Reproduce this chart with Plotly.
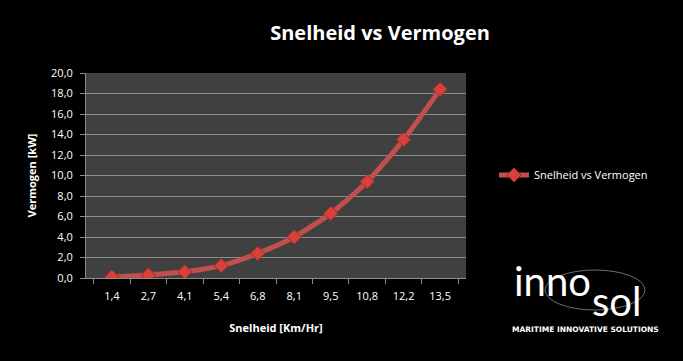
import plotly.graph_objects as go

categories = ["1,4", "2,7", "4,1", "5,4", "6,8", "8,1", "9,5", "10,8", "12,2", "13,5"]
vermogen = [0.1, 0.3, 0.6, 1.2, 2.4, 4.0, 6.3, 9.4, 13.5, 18.4]
series_name = "Snelheid vs Vermogen"

W, H = 683, 361
L, R, T, B = 86, 217, 73, 83
PW, PH = W - L - R, H - T - B


def px(x):
    return (x - L) / PW


def py(y):
    return (H - B - y) / PH


fig = go.Figure()
fig.add_trace(go.Scatter(
    x=categories, y=vermogen, mode="lines+markers", name=series_name,
    line=dict(color="#c0504d", width=5, shape="spline", smoothing=0.6),
    marker=dict(symbol="diamond", size=11, color="#d9403a",
                line=dict(color="#9a2e2b", width=1)),
))

font_main = "Open Sans, DejaVu Sans, sans-serif"
fig.update_layout(
    width=W, height=H,
    margin=dict(l=L, r=R, t=T, b=B),
    paper_bgcolor="black", plot_bgcolor="#404040",
    separators=",.",
    font=dict(family=font_main, color="white", size=11),
    title=dict(text="<b>Snelheid vs Vermogen</b>", x=380 / W, xanchor="center",
               y=1 - 33 / H, yanchor="middle", font=dict(size=20, color="white")),
    showlegend=True,
    legend=dict(x=px(494), y=py(175), xanchor="left", yanchor="middle",
                font=dict(size=11, color="white"),
                bgcolor="rgba(0,0,0,0)", itemwidth=30),
    xaxis=dict(
        type="category", tickson="boundaries", ticks="outside", ticklen=5,
        tickcolor="#8c8c8c", showline=True, linecolor="#8c8c8c", linewidth=1,
        showgrid=False, ticklabelstandoff=8,
        title=dict(text="<b>Snelheid [Km/Hr]</b>", font=dict(size=11), standoff=22),
        tickfont=dict(size=11, color="white"),
    ),
    yaxis=dict(
        range=[0, 20], dtick=2, tickformat=".1f", ticks="outside", ticklen=5,
        tickcolor="#8c8c8c", showline=True, linecolor="#8c8c8c", linewidth=1,
        gridcolor="#8c8c8c", gridwidth=1, zeroline=False, ticklabelstandoff=5,
        title=dict(text="<b>Vermogen [kW]</b>", font=dict(size=11), standoff=12),
        tickfont=dict(size=11, color="white"),
    ),
)

# logo (text-based approximation)
fig.add_shape(type="circle", xref="paper", yref="paper",
              x0=px(545), x1=px(645), y0=py(310), y1=py(270),
              line=dict(color="#6e6e6e", width=1))
fig.add_annotation(text="inno", xref="paper", yref="paper", x=px(512), y=py(281),
                   xanchor="left", yanchor="middle", showarrow=False,
                   font=dict(family="Lato, DejaVu Sans, sans-serif", size=40, color="white"))
fig.add_annotation(text="sol", xref="paper", yref="paper", x=px(590), y=py(301),
                   xanchor="left", yanchor="middle", showarrow=False,
                   font=dict(family="Lato, DejaVu Sans, sans-serif", size=40, color="white"))
fig.add_annotation(text="<b>MARITIME INNOVATIVE SOLUTIONS</b>", xref="paper", yref="paper",
                   x=px(585), y=py(329), xanchor="center", yanchor="middle",
                   showarrow=False,
                   font=dict(family="DejaVu Sans, sans-serif", size=7.5, color="white"))

fig.write_html("out.html", config={"displayModeBar": False},
               post_script="document.body.style.margin='0';")
